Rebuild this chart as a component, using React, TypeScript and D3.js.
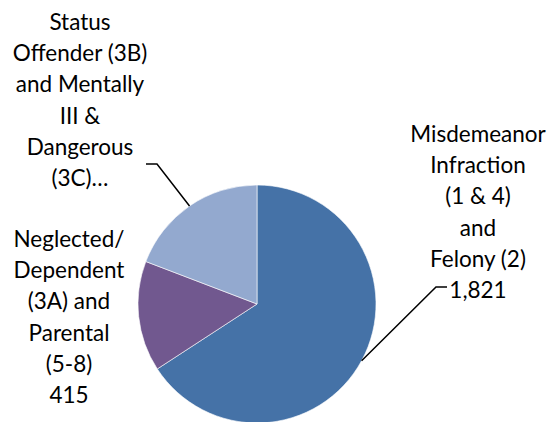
import React from "react";
import * as d3 from "d3";

const categories = [
  "Misdemeanor Infraction (1 & 4) and Felony (2)",
  "Neglected/ Dependent (3A) and Parental (5-8)",
  "Status Offender (3B) and Mentally Ill & Dangerous (3C)",
];
const values = [1821, 415, 531];
const colors = ["#4572A7", "#71588F", "#93A9CF"];
const labelLines = [
  ["Misdemeanor", "Infraction", "(1 & 4)", "and", "Felony (2)", "1,821"],
  ["Neglected/", "Dependent", "(3A) and", "Parental", "(5-8)", "415"],
  ["Status", "Offender (3B)", "and Mentally", "III &", "Dangerous", "(3C)…"],
];

const W = 548;
const H = 422;
const cx = 257;
const cy = 304;
const R = 119;
const lineH = 31.2;
const FONT = "Lato, 'Open Sans', sans-serif";
const FS = 22.5;

// label block layout: center x, first baseline y
const labelPos = [
  { x: 478, y: 142 },
  { x: 69, y: 247 },
  { x: 80, y: 30 },
];

export default function App() {
  const pie = d3
    .pie<number>()
    .sort(null)
    .value((d) => d)
    .startAngle(0)
    .endAngle(2 * Math.PI);
  const arcs = pie(values);
  const arcGen = d3.arc<d3.PieArcDatum<number>>().innerRadius(0).outerRadius(R);

  const pt = (a: number, r: number) => [cx + r * Math.sin(a), cy - r * Math.cos(a)];
  const mid = (a: d3.PieArcDatum<number>) => (a.startAngle + a.endAngle) / 2;

  const [m0x, m0y] = pt(mid(arcs[0]), R);
  const [s0x, s0y] = pt(mid(arcs[2]), R);

  const leaders = [
    `M${m0x},${m0y} L436,287 L447,287`,
    `M${s0x},${s0y} L157,164 L146,164`,
  ];

  return (
    <svg
      width={W}
      height={H}
      style={{ position: "absolute", left: 0, top: 0, background: "#fff" }}
    >
      <g transform={`translate(${cx},${cy})`}>
        {arcs.map((a, i) => (
          <path
            key={categories[i]}
            d={arcGen(a) || ""}
            fill={colors[i]}
            stroke="#ffffff"
            strokeWidth={0.6}
          />
        ))}
      </g>
      {leaders.map((d, i) => (
        <path key={i} d={d} fill="none" stroke="#000" strokeWidth={1.5} />
      ))}
      {labelLines.map((lines, i) => (
        <text
          key={i}
          textAnchor="middle"
          fontFamily={FONT}
          fontSize={FS}
          fill="#000"
        >
          {lines.map((l, j) => (
            <tspan key={j} x={labelPos[i].x} y={labelPos[i].y + j * lineH}>
              {l}
            </tspan>
          ))}
        </text>
      ))}
    </svg>
  );
}
